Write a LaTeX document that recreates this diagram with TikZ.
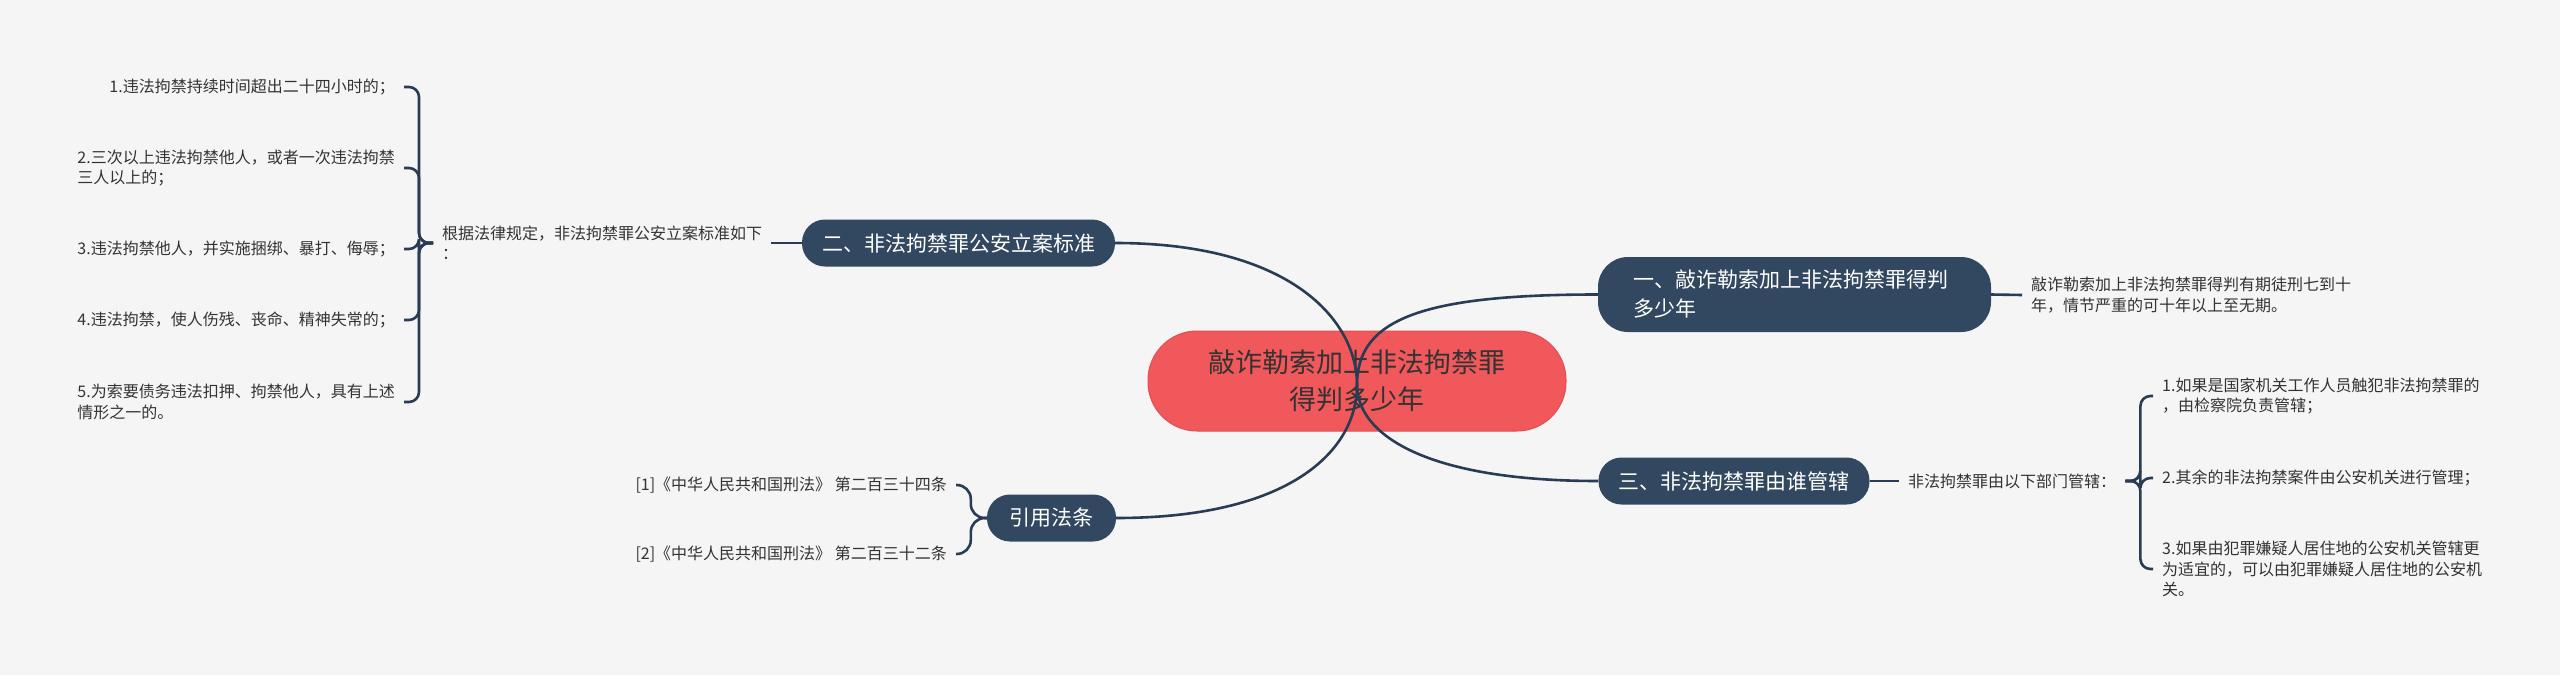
\documentclass[tikz,border=0pt]{standalone}
\usepackage{fontspec}
\setmainfont{Noto Sans CJK SC}
\usetikzlibrary{calc}
\definecolor{bg}{RGB}{245,245,245}
\definecolor{navy}{RGB}{50,72,96}
\definecolor{edgec}{RGB}{42,60,84}
\definecolor{redc}{RGB}{240,88,91}
\definecolor{redb}{RGB}{226,78,81}
\definecolor{txt}{RGB}{51,51,51}
\begin{document}
\begin{tikzpicture}[x=1pt,y=-1pt,
  branch/.style={fill=navy, text=white, rounded corners=23pt, minimum height=47pt, inner xsep=20pt, inner ysep=0pt, font=\fontsize{21}{29}\selectfont},
  leaf/.style={text=txt, inner xsep=9pt, inner ysep=1pt, align=left, font=\fontsize{16}{20.5}\selectfont},
  edge/.style={draw=edgec, line width=2.6pt},
  brace/.style={draw=edgec, line width=2.6pt, rounded corners=10pt}]

\fill[bg] (0,0) rectangle (2560,675);
\useasboundingbox (0,0) rectangle (2560,675);

% centre
\node[fill=redc, draw=redb, line width=1pt, rounded corners=49pt, minimum width=418pt, minimum height=100pt, text=txt, align=center, font=\fontsize{27}{37}\selectfont] (c) at (1357,381) {敲诈勒索加上非法拘禁罪\\得判多少年};
\coordinate (o) at (1357,385);

% branches
\node[branch, minimum width=393pt, minimum height=75pt, rounded corners=30pt, text width=323pt, inner xsep=35pt, align=left] (n1) at (1794.5,294.5) {一、敲诈勒索加上非法拘禁罪得判\\多少年};
\node[branch] (n2) at (958.5,243) {二、非法拘禁罪公安立案标准};
\node[branch] (n3) at (1734,481) {三、非法拘禁罪由谁管辖};
\node[branch, minimum width=129pt] (n4) at (1051.5,518) {引用法条};

% first-level leaves
\node[leaf, anchor=west] (r1) at (2022,295) {敲诈勒索加上非法拘禁罪得判有期徒刑七到十\\年，情节严重的可十年以上至无期。};
\node[leaf, anchor=west] (r2) at (433,243) {根据法律规定，非法拘禁罪公安立案标准如下\\：};
\node[leaf, anchor=west] (r3) at (1899,481) {非法拘禁罪由以下部门管辖：};

% left items
\node[leaf, anchor=east] (a1) at (404,87) {1.违法拘禁持续时间超出二十四小时的；};
\node[leaf, anchor=east] (a2) at (404,168) {2.三次以上违法拘禁他人，或者一次违法拘禁\\三人以上的；};
\node[leaf, anchor=east] (a3) at (404,249) {3.违法拘禁他人，并实施捆绑、暴打、侮辱；};
\node[leaf, anchor=east] (a4) at (404,320) {4.违法拘禁，使人伤残、丧命、精神失常的；};
\node[leaf, anchor=east] (a5) at (404,402) {5.为索要债务违法扣押、拘禁他人，具有上述\\情形之一的。};

% right items
\node[leaf, anchor=west] (b1) at (2153,396) {1.如果是国家机关工作人员触犯非法拘禁罪的\\，由检察院负责管辖；};
\node[leaf, anchor=west] (b2) at (2153,478) {2.其余的非法拘禁案件由公安机关进行管理；};
\node[leaf, anchor=west] (b3) at (2153,569) {3.如果由犯罪嫌疑人居住地的公安机关管辖更\\为适宜的，可以由犯罪嫌疑人居住地的公安机\\关。};

% references
\node[leaf, anchor=east] (q1) at (956,485) {[1]《中华人民共和国刑法》 第二百三十四条};
\node[leaf, anchor=east] (q2) at (956,554) {[2]《中华人民共和国刑法》 第二百三十二条};

% main curves
\draw[edge] (o) .. controls +(0,-65) and +(175,0) .. (n2.east);
\draw[edge] (o) .. controls +(0,65) and +(175,0) .. (n4.east);
\draw[edge] (o) .. controls +(0,-65) and +(-178,0) .. (n1.west);
\draw[edge] (o) .. controls +(0,48) and +(-176,0) .. (n3.west);

% stubs
\draw[edge] (n2.west) -- (r2.east);
\draw[edge] (n1.east) -- (r1.west);
\draw[edge] (n3.east) -- (r3.west);

% braces
\foreach \t in {a1,a2,a3,a4,a5} \draw[brace] (r2.west) -- ++(-14,0) |- (\t.east);
\foreach \t in {b1,b2,b3} \draw[brace] (r3.east) -- ++(15,0) |- (\t.west);
\foreach \t in {q1,q2} \draw[brace, rounded corners=14pt] (n4.west) -- ++(-16,0) |- (\t.east);
\end{tikzpicture}
\end{document}
